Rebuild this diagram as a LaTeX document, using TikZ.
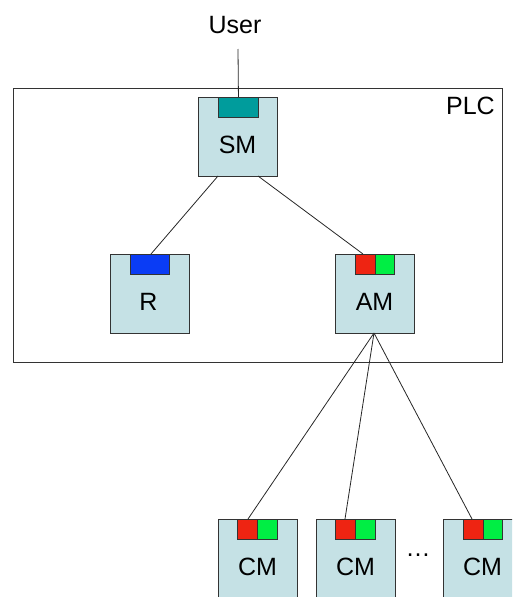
\documentclass[tikz,border=0pt]{standalone}
\usepackage{fontspec}
\setmainfont{Liberation Sans}
\begin{document}
\begin{tikzpicture}[x=1pt,y=-1pt,
  modbox/.style={draw=black!80, fill=boxfill, line width=0.9pt, minimum width=79pt, minimum height=79pt, inner sep=0pt, anchor=north west},
  port/.style={draw=black!80, line width=0.9pt, minimum height=20pt, inner sep=0pt, anchor=north west},
  lbl/.style={font=\fontsize{25}{27}\selectfont, inner sep=0pt},
  conn/.style={draw=black!85, line width=0.8pt}]
\definecolor{boxfill}{HTML}{C5E1E5}
\definecolor{teal}{HTML}{009C9C}
\definecolor{pblue}{HTML}{0A3CF5}
\definecolor{pred}{HTML}{EE2412}
\definecolor{pgreen}{HTML}{00EE44}
\useasboundingbox (0,0) rectangle (512,597);
\clip (0,0) rectangle (512,597);
% PLC frame
\node[draw=black!80, line width=0.9pt, minimum width=489pt, minimum height=274pt, inner sep=0pt, anchor=north west] (plc) at (13,88) {};
\node[lbl, anchor=north east] (plclbl) at (495,97) {PLC};
% User
\node[lbl] (user) at (235,25) {User};
% modules
\node[modbox] (sm) at (198,97) {};
\node[modbox] (r) at (110,254) {};
\node[modbox] (am) at (335,254) {};
\node[modbox] (cm1) at (218,519) {};
\node[modbox] (cm2) at (316,519) {};
\node[modbox] (cm3) at (443,519) {};
% ports
\node[port, fill=teal, minimum width=40pt] (smp) at (218,97) {};
\node[port, fill=pblue, minimum width=39pt] (rp) at (130,254) {};
\node[port, fill=pred, minimum width=19.5pt] (amr) at (355,254) {};
\node[port, fill=pgreen, minimum width=19.5pt] (amg) at (374.5,254) {};
\node[port, fill=pred, minimum width=20pt] (c1r) at (237,519) {};
\node[port, fill=pgreen, minimum width=20pt] (c1g) at (257,519) {};
\node[port, fill=pred, minimum width=20pt] (c2r) at (335,519) {};
\node[port, fill=pgreen, minimum width=20pt] (c2g) at (355,519) {};
\node[port, fill=pred, minimum width=19.5pt] (c3r) at (463,519) {};
\node[port, fill=pgreen, minimum width=19.5pt] (c3g) at (482.5,519) {};
% labels
\node[lbl] (smt) at (237.5,145) {SM};
\node[lbl] (rt) at (148.5,302) {R};
\node[lbl] (amt) at (374.5,302) {AM};
\node[lbl] (cm1t) at (257.5,567) {CM};
\node[lbl] (cm2t) at (355.5,567) {CM};
\node[lbl] (cm3t) at (482.5,567) {CM};
\node[lbl] (dots) at (418,555) {\dots};
% connection points
\coordinate (userb) at (238,49);
\coordinate (smbl) at (218,176);
\coordinate (smbr) at (258,176);
\coordinate (rpt) at (151,254);
\coordinate (ampt) at (363,254);
\coordinate (amb) at (374,333);
\coordinate (c1t) at (248,519);
\coordinate (c2t) at (345,519);
\coordinate (c3t) at (472,519);
% connectors
\draw[conn] (userb) -- (smp.north);
\draw[conn] (smbl) -- (rpt);
\draw[conn] (smbr) -- (ampt);
\draw[conn] (amb) -- (c1t);
\draw[conn] (amb) -- (c2t);
\draw[conn] (amb) -- (c3t);
\end{tikzpicture}
\end{document}
